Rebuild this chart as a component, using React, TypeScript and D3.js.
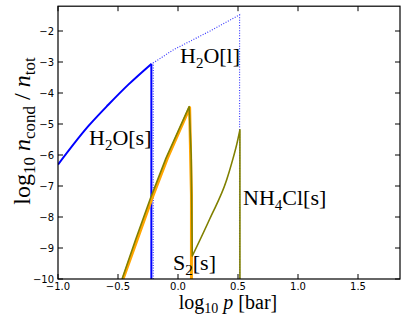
import React from 'react'
import * as d3 from 'd3'

// log10 p [bar] and log10 n_cond/n_tot
const h2oSolidP = [-1.0, -0.7475, -0.581, -0.414, -0.222]
const h2oSolidN = [-6.31, -5.07, -4.38, -3.73, -3.06]
const h2oSolidDropP = [-0.222, -0.222]
const h2oSolidDropN = [-3.06, -10]

const h2oLiquidP = [-0.206, -0.206, -0.04, 0.267, 0.513, 0.513]
const h2oLiquidN = [-10, -3.03, -2.61, -2.0, -1.48, -10]

const orangeP = [-0.458, -0.345, -0.215, -0.09, 0.097, 0.106, 0.112, 0.112]
const orangeN = [-10, -8.78, -7.38, -6.12, -4.47, -6.2, -7.3, -10]

// olive: rise to the peak, drop, then the curved climb to the NH4Cl edge
const oliveRiseP = [-0.466, -0.355, -0.225, -0.1, 0.093, 0.11, 0.119]
const oliveRiseN = [-10, -8.75, -7.35, -6.1, -4.44, -6.0, -9.26]
const oliveClimbP = [0.119, 0.267, 0.405, 0.447, 0.49, 0.516]
const oliveClimbN = [-9.26, -8.04, -6.81, -6.27, -5.65, -5.19]
const oliveDropP = [0.516, 0.516]
const oliveDropN = [-5.19, -10]

const xTicks = [-1.0, -0.5, 0.0, 0.5, 1.0, 1.5]
const yTicks = [-10, -9, -8, -7, -6, -5, -4, -3, -2]

const W = 407
const H = 326
const plot = { left: 58, right: 400, top: 6.2, bottom: 279 }

const minus = (s: string) => s.replace('-', '\u2212')

export default function App() {
  const x = d3.scaleLinear().domain([-1, 1.85]).range([plot.left, plot.right])
  const y = d3.scaleLinear().domain([-10, -1.2]).range([plot.bottom, plot.top])

  const zip = (px: number[], py: number[]) => px.map((p, i) => [p, py[i]] as [number, number])
  const straight = d3.line<[number, number]>().x(d => x(d[0])).y(d => y(d[1]))
  const smooth = d3.line<[number, number]>().x(d => x(d[0])).y(d => y(d[1])).curve(d3.curveMonotoneX)

  const serif = '"Liberation Serif", "DejaVu Serif", serif'
  const sans = '"DejaVu Sans", sans-serif'
  const tick = 5

  const label = (main: string, sub: string, rest: string, lx: number, ly: number) => (
    <text x={lx} y={ly} fontFamily={serif} fontSize={22} fill="#000">
      {main}
      <tspan fontSize={15} dy={4.5}>{sub}</tspan>
      <tspan dy={-4.5}>{rest}</tspan>
    </text>
  )

  const olivePath =
    (straight(zip(oliveRiseP, oliveRiseN)) || '') +
    (smooth(zip(oliveClimbP, oliveClimbN)) || '').replace(/^M/, 'L') +
    (straight(zip(oliveDropP, oliveDropN)) || '').replace(/^M/, 'L')

  return (
    <svg width={W} height={H} viewBox={`0 0 ${W} ${H}`} style={{ position: 'absolute', left: 0, top: 0 }}>
      <rect width={W} height={H} fill="#fff" />
      <defs>
        <clipPath id="plotclip">
          <rect x={plot.left} y={plot.top} width={plot.right - plot.left} height={plot.bottom - plot.top} />
        </clipPath>
      </defs>
      <g clipPath="url(#plotclip)" fill="none">
        <path d={straight(zip(h2oLiquidP, h2oLiquidN)) || ''} stroke="#3a3aff" strokeWidth={1.2} strokeDasharray="1,1.6" />
        <path d={smooth(zip(h2oSolidP, h2oSolidN)) || ''} stroke="#0000ff" strokeWidth={2} />
        <path d={straight(zip(h2oSolidDropP, h2oSolidDropN)) || ''} stroke="#0000ff" strokeWidth={2} />
        <path d={straight(zip(orangeP, orangeN)) || ''} stroke="#ffa500" strokeWidth={3} strokeLinejoin="round" />
        <path d={olivePath} stroke="#808000" strokeWidth={1.6} strokeLinejoin="round" />
      </g>
      {label('H', '2', 'O[l]', 180, 63)}
      {label('H', '2', 'O[s]', 89, 145)}
      {label('S', '2', '[s]', 173, 270)}
      {label('NH', '4', 'Cl[s]', 243, 205)}
      <rect x={plot.left} y={plot.top} width={plot.right - plot.left} height={plot.bottom - plot.top} fill="none" stroke="#000" strokeWidth={1.2} />
      {xTicks.map(t => (
        <g key={`x${t}`}>
          <line x1={x(t)} x2={x(t)} y1={plot.bottom} y2={plot.bottom - tick} stroke="#000" />
          <line x1={x(t)} x2={x(t)} y1={plot.top} y2={plot.top + tick} stroke="#000" />
          <text x={x(t)} y={290} textAnchor="middle" fontFamily={sans} fontSize={10}>{minus(d3.format('.1f')(t))}</text>
        </g>
      ))}
      {yTicks.map(t => (
        <g key={`y${t}`}>
          <line x1={plot.left} x2={plot.left + tick} y1={y(t)} y2={y(t)} stroke="#000" />
          <line x1={plot.right} x2={plot.right - tick} y1={y(t)} y2={y(t)} stroke="#000" />
          <text x={plot.left - 4} y={y(t)} textAnchor="end" dominantBaseline="central" fontFamily={sans} fontSize={10}>{minus(String(t))}</text>
        </g>
      ))}
      <text x={228} y={309} textAnchor="middle" fontFamily={serif} fontSize={20}>
        log<tspan fontSize={14} dy={4}>10</tspan>
        <tspan dy={-4} fontStyle="italic"> p</tspan> [bar]
      </text>
      <text transform="translate(30,131) rotate(-90)" textAnchor="middle" fontFamily={serif} fontSize={24}>
        log<tspan fontSize={17} dy={5}>10</tspan>
        <tspan dy={-5} fontStyle="italic"> n</tspan>
        <tspan fontSize={17} dy={5}>cond</tspan>
        <tspan dy={-5}> / </tspan>
        <tspan fontStyle="italic">n</tspan>
        <tspan fontSize={17} dy={5}>tot</tspan>
      </text>
    </svg>
  )
}
